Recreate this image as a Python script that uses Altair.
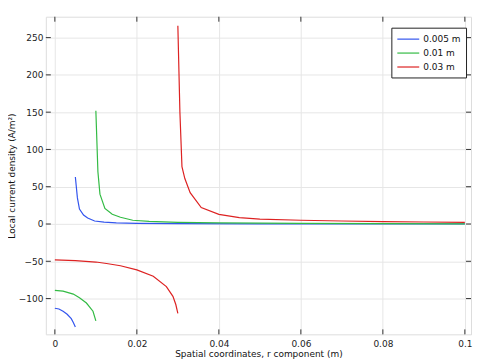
import altair as alt
import pandas as pd

series_names = ["0.005 m", "0.01 m", "0.03 m"]
colors = ["#3355ee", "#33bb44", "#dd2222"]

# 0.005 m
blue_low_x = [0.0, 0.001, 0.002, 0.003, 0.004, 0.0045, 0.005]
blue_low_y = [-113, -114, -117, -121, -127, -132, -138]
blue_up_x = [0.005, 0.0055, 0.006, 0.007, 0.008, 0.0097, 0.012, 0.015, 0.02, 0.03, 0.05, 0.07, 0.1]
blue_up_y = [63, 35, 20, 12, 8, 4, 2.5, 1.5, 0.8, 0.4, 0.2, 0.1, 0.05]

# 0.01 m
green_low_x = [0.0, 0.002, 0.0045, 0.006, 0.0077, 0.0093, 0.01]
green_low_y = [-89, -90, -94, -99, -106, -117, -130]
green_up_x = [0.01, 0.0105, 0.011, 0.0122, 0.014, 0.016, 0.019, 0.023, 0.03, 0.04, 0.06, 0.08, 0.1]
green_up_y = [152, 70, 40, 21, 13, 9, 5, 3.5, 2.3, 1.5, 0.8, 0.5, 0.3]

# 0.03 m
red_low_x = [0.0, 0.005, 0.01, 0.0126, 0.016, 0.02, 0.024, 0.0272, 0.0288, 0.0295, 0.030]
red_low_y = [-48, -49, -51, -53, -56, -61.5, -70, -84, -97, -108, -120]
red_up_x = [0.030, 0.0305, 0.031, 0.0317, 0.033, 0.0357, 0.04, 0.045, 0.05, 0.06, 0.07, 0.08, 0.09, 0.1]
red_up_y = [266, 150, 77, 61, 42, 22, 13, 8.5, 6.5, 5, 4, 3.2, 2.7, 2.3]

x_ticks = [0, 0.02, 0.04, 0.06, 0.08, 0.1]
y_ticks = [-100, -50, 0, 50, 100, 150, 200, 250]

rows = []
for name, seg, xs, ys in [
    (series_names[0], "a", blue_low_x, blue_low_y),
    (series_names[0], "b", blue_up_x, blue_up_y),
    (series_names[1], "a", green_low_x, green_low_y),
    (series_names[1], "b", green_up_x, green_up_y),
    (series_names[2], "a", red_low_x, red_low_y),
    (series_names[2], "b", red_up_x, red_up_y),
]:
    for i, (x, y) in enumerate(zip(xs, ys)):
        rows.append({"r": x, "j": y, "series": name, "seg": name + seg, "order": i})
df = pd.DataFrame(rows)

W, H = 427, 319
xscale = alt.Scale(domain=[-0.0022, 0.1015], nice=False, zero=False)
yscale = alt.Scale(domain=[-148, 278], nice=False, zero=False)
font = "DejaVu Sans"

lines = alt.Chart(df).mark_line(strokeWidth=1.2, clip=True).encode(
    x=alt.X("r:Q", scale=xscale,
            axis=alt.Axis(values=x_ticks, title="Spatial coordinates, r component (m)",
                          labelFlush=False, tickSize=0, labelPadding=5, titlePadding=1,
                          domain=False, gridColor="#e6e6e6", labelColor="#222",
                          titleColor="#111", titleFontWeight="normal",
                          labelFont=font, titleFont=font, labelFontSize=9, titleFontSize=9,
                          labelExpr="datum.value == 0 ? '0' : format(datum.value, '.2~f')")),
    y=alt.Y("j:Q", scale=yscale,
            axis=alt.Axis(values=y_ticks, title="Local current density (A/m²)",
                          tickSize=0, labelPadding=3, domain=False,
                          titleX=-29, titleY=H / 2, titleAngle=-90, titleAlign="center",
                          titleBaseline="bottom",
                          gridColor="#e6e6e6", labelColor="#222", titleColor="#111",
                          titleFontWeight="normal", labelFont=font, titleFont=font,
                          labelFontSize=9, titleFontSize=9)),
    color=alt.Color("series:N", scale=alt.Scale(domain=series_names, range=colors),
                    legend=alt.Legend(title=None, orient="none", legendX=347, legendY=11,
                                      strokeColor="#222", fillColor="white", padding=5,
                                      symbolType="M-1,0H3", symbolStrokeWidth=1.2,
                                      symbolSize=121, labelFont=font, labelFontSize=9,
                                      labelColor="#111", rowPadding=2, labelOffset=14)),
    detail="seg:N",
    order="order:Q",
)

xt = pd.DataFrame({"v": x_ticks})
yt = pd.DataFrame({"v": y_ticks})
tick_style = dict(color="#333", strokeWidth=1)
xb = alt.Chart(xt).mark_rule(**tick_style).encode(
    x=alt.X("v:Q", scale=xscale), y=alt.value(H), y2=alt.value(H - 5))
xtop = alt.Chart(xt).mark_rule(**tick_style).encode(
    x=alt.X("v:Q", scale=xscale), y=alt.value(0), y2=alt.value(5))
yl = alt.Chart(yt).mark_rule(**tick_style).encode(
    y=alt.Y("v:Q", scale=yscale), x=alt.value(0), x2=alt.value(5))
yr = alt.Chart(yt).mark_rule(**tick_style).encode(
    y=alt.Y("v:Q", scale=yscale), x=alt.value(W), x2=alt.value(W - 5))

chart = alt.layer(lines, xb, xtop, yl, yr).properties(
    width=W, height=H,
    autosize=alt.AutoSizeParams(type="none"),
    padding={"left": 38, "top": 8, "right": 2, "bottom": 26},
).configure_view(stroke="#444", strokeWidth=1.5).configure(background="white")

chart.save("out.html", embed_options={"renderer": "svg", "actions": False})
